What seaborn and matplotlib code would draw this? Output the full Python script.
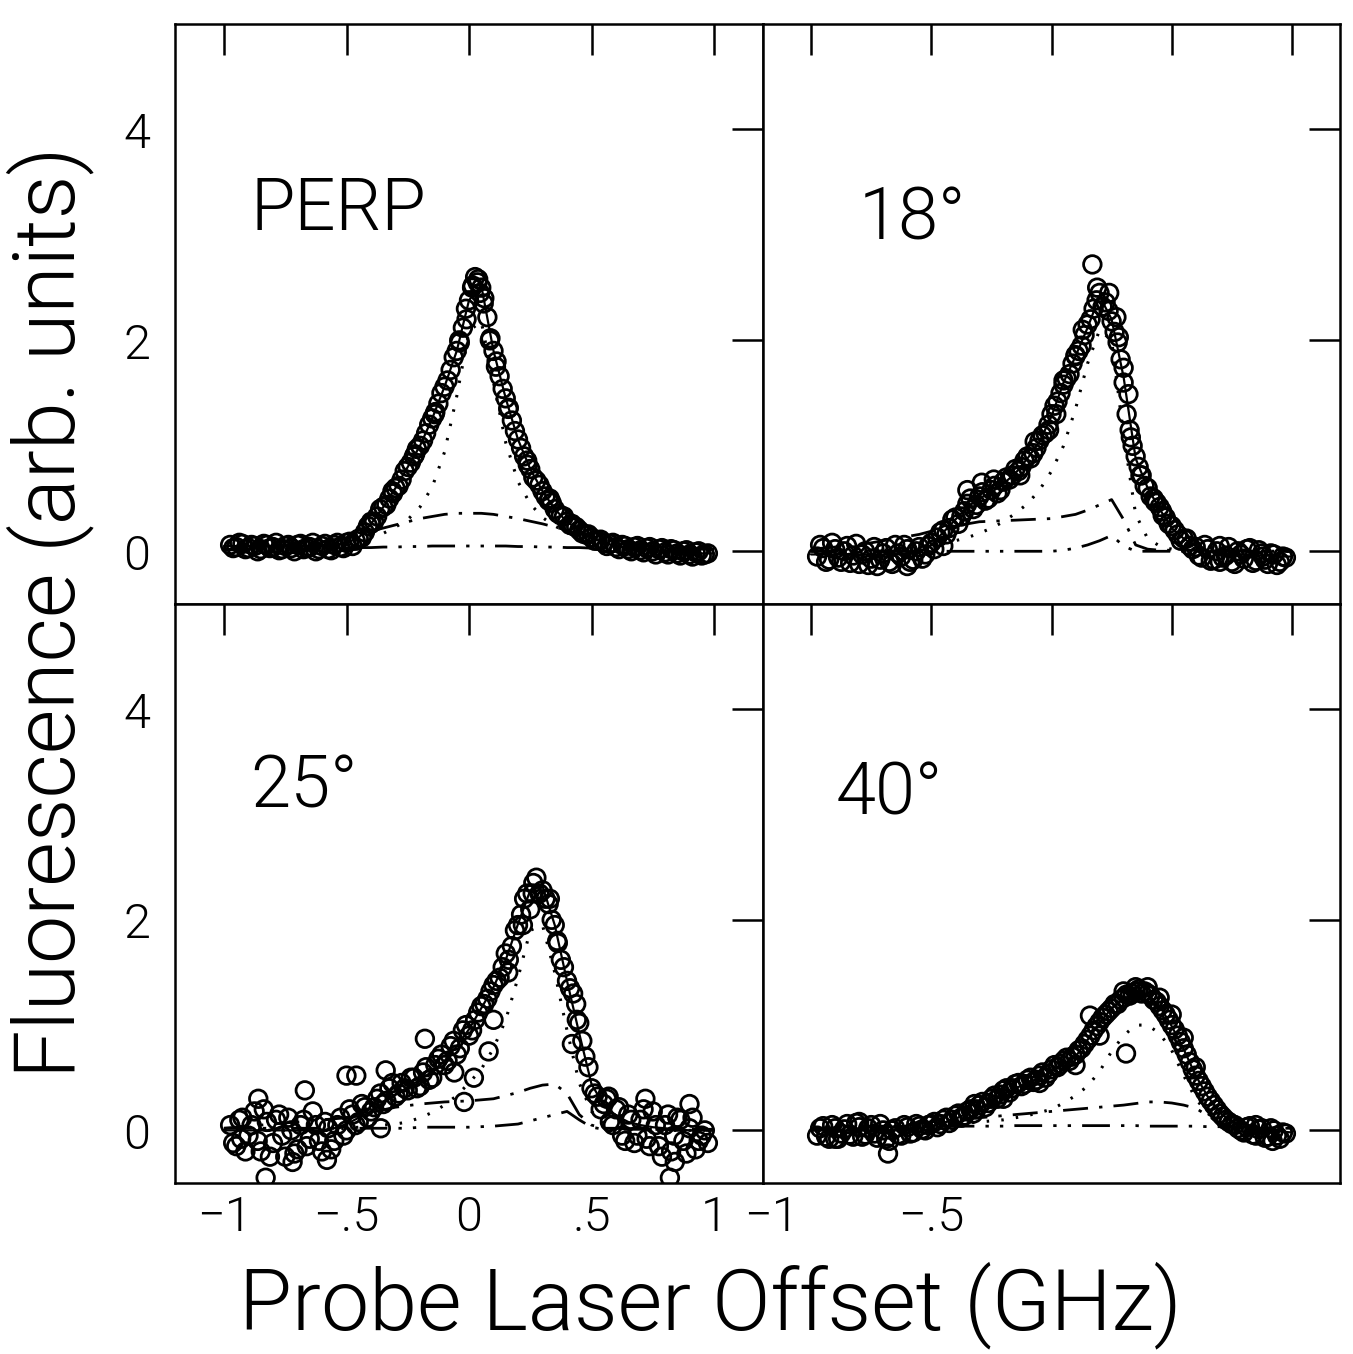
import numpy as np
import pandas as pd
import seaborn as sns
import matplotlib.pyplot as plt
from matplotlib import font_manager as fm
from matplotlib import transforms

# probe offset (GHz) of the scan points: two interleaved grids shared by every panel
DATA_X = [-0.975, -0.95, -0.925, -0.9, -0.875, -0.85, -0.825, -0.8, -0.775, -0.75,
          -0.725, -0.7, -0.675, -0.65, -0.625, -0.6, -0.575, -0.55, -0.525, -0.5,
          -0.475, -0.45, -0.425, -0.4, -0.375, -0.35, -0.325, -0.3, -0.275, -0.25,
          -0.225, -0.2, -0.175, -0.15, -0.125, -0.1, -0.075, -0.05, -0.025, 0.0,
          0.025, 0.05, 0.075, 0.1, 0.125, 0.15, 0.175, 0.2, 0.225, 0.25,
          0.275, 0.3, 0.325, 0.35, 0.375, 0.4, 0.425, 0.45, 0.475, 0.5,
          0.525, 0.55, 0.575, 0.6, 0.625, 0.65, 0.675, 0.7, 0.725, 0.75,
          0.775, 0.8, 0.825, 0.85, 0.875, 0.9, 0.925, 0.95, 0.975]
DATA_X2 = [-0.9625, -0.9375, -0.9125, -0.8875, -0.8625, -0.8375, -0.8125, -0.7875, -0.7625, -0.7375,
           -0.7125, -0.6875, -0.6625, -0.6375, -0.6125, -0.5875, -0.5625, -0.5375, -0.5125, -0.4875,
           -0.4625, -0.4375, -0.4125, -0.3875, -0.3625, -0.3375, -0.3125, -0.2875, -0.2625, -0.2375,
           -0.2125, -0.1875, -0.1625, -0.1375, -0.1125, -0.0875, -0.0625, -0.0375, -0.0125,
           0.0125, 0.0375, 0.0625, 0.0875, 0.1125, 0.1375, 0.1625, 0.1875, 0.2125, 0.2375,
           0.2625, 0.2875, 0.3125, 0.3375, 0.3625, 0.3875, 0.4125, 0.4375, 0.4625, 0.4875,
           0.5125, 0.5375, 0.5625, 0.5875, 0.6125, 0.6375, 0.6625, 0.6875, 0.7125, 0.7375,
           0.7625, 0.7875, 0.8125, 0.8375, 0.8625, 0.8875, 0.9125, 0.9375, 0.9625]

perp_y = [0.06, 0.04, 0.07, 0.03, 0.05, 0.02, 0.06, 0.04, 0.01, 0.05,
          0.03, 0.06, 0.02, 0.04, 0.0, 0.05, 0.02, 0.06, 0.04, 0.08,
          0.05, 0.12, 0.18, 0.26, 0.33, 0.42, 0.5, 0.6, 0.68, 0.8,
          0.9, 1.0, 1.12, 1.26, 1.4, 1.56, 1.72, 1.9, 2.12, 2.38,
          2.6, 2.5, 2.22, 1.9, 1.66, 1.45, 1.24, 1.06, 0.9, 0.78,
          0.67, 0.57, 0.48, 0.4, 0.34, 0.28, 0.24, 0.2, 0.16, 0.13,
          0.1, 0.08, 0.07, 0.04, 0.06, 0.02, 0.04, 0.01, 0.03, 0.0,
          0.02, -0.01, 0.02, -0.02, 0.0, -0.03, -0.01, -0.04, -0.02]
perp_y2 = [0.03, 0.08, 0.02, 0.06, 0.0, 0.07, 0.03, 0.08, 0.02, 0.06,
           0.0, 0.07, 0.03, 0.08, 0.02, 0.07, 0.01, 0.08, 0.03, 0.09,
           0.1, 0.13, 0.24, 0.28, 0.4, 0.44, 0.57, 0.62, 0.76, 0.84,
           0.97, 1.05, 1.2, 1.32, 1.5, 1.62, 1.84, 1.98, 2.3,
           2.5, 2.58, 2.4, 2.02, 1.8, 1.54, 1.36, 1.14, 0.98, 0.86,
           0.7, 0.63, 0.52, 0.46, 0.36, 0.33, 0.25, 0.23, 0.17, 0.16,
           0.1, 0.11, 0.05, 0.08, 0.02, 0.05, 0.0, 0.05, -0.01, 0.04,
           -0.03, 0.03, -0.03, 0.01, -0.04, 0.01, -0.05, 0.0, -0.03]
perp_ex_x = [0.035, 0.045, 0.06, 0.015, -0.01, 0.085, -0.04, 0.11, -0.14, 0.16, -0.22, 0.24, -0.31, 0.33, -0.4, 0.42]
perp_ex_y = [2.55, 2.45, 2.35, 2.52, 2.2, 2.0, 2.0, 1.75, 1.3, 1.35, 0.92, 0.82, 0.55, 0.5, 0.28, 0.26]

d18_y = [-0.05, 0.03, -0.08, 0.02, -0.1, 0.05, -0.04, -0.12, 0.0, -0.07,
         -0.14, -0.02, -0.1, 0.06, -0.05, 0.02, -0.08, 0.04, -0.03, 0.08,
         0.13, 0.2, 0.22, 0.32, 0.33, 0.45, 0.4, 0.52, 0.48, 0.58,
         0.55, 0.66, 0.68, 0.78, 0.8, 0.9, 0.93, 1.05, 1.12, 1.3,
         1.42, 1.62, 1.68, 1.85, 1.95, 2.15, 2.3, 2.45, 2.36, 2.18,
         1.98, 1.6, 1.15, 0.9, 0.72, 0.6, 0.5, 0.42, 0.32, 0.24,
         0.16, 0.12, 0.05, 0.04, -0.06, 0.02, -0.08, 0.05, -0.04, -0.1,
         0.0, -0.07, 0.03, -0.09, -0.02, -0.12, -0.03, -0.1, -0.06]
d18_y2 = [0.06, -0.1, 0.08, -0.06, 0.0, -0.11, 0.07, -0.03, -0.13, 0.04,
          -0.08, 0.03, -0.12, -0.02, 0.06, -0.1, 0.0, -0.07, 0.05, 0.02,
          0.18, 0.16, 0.3, 0.26, 0.38, 0.5, 0.44, 0.56, 0.5, 0.62,
          0.58, 0.7, 0.72, 0.76, 0.86, 0.88, 0.98, 1.1, 1.2,
          1.38, 1.5, 1.64, 1.78, 1.9, 2.05, 2.2, 2.38, 2.32, 2.28,
          2.08, 1.82, 1.3, 1.0, 0.8, 0.62, 0.52, 0.46, 0.34, 0.26,
          0.2, 0.1, 0.12, 0.02, -0.04, 0.06, -0.09, 0.0, -0.06, 0.04,
          -0.12, -0.03, 0.02, -0.11, 0.01, -0.08, -0.02, -0.13, -0.05]
d18_ex_x = [0.17, 0.19, 0.24, 0.27, 0.28, 0.13, 0.1, 0.05, 0.02, -0.01, -0.07, -0.13, -0.24, -0.29, -0.35,
            0.3, 0.32, 0.33, 0.37, 0.43, 0.46, -0.6, -0.45, 0.7, 0.88]
d18_ex_y = [2.72, 2.5, 2.45, 2.22, 2.03, 2.1, 1.86, 1.58, 1.3, 1.15, 1.04, 0.72, 0.68, 0.65, 0.58,
            1.74, 1.49, 1.08, 0.72, 0.47, 0.38, -0.14, 0.05, -0.1, -0.05]

d25_y = [0.05, -0.15, 0.12, -0.05, 0.18, -0.2, 0.08, -0.12, 0.15, -0.25,
         0.0, -0.18, 0.1, -0.08, 0.05, -0.2, 0.02, -0.1, 0.12, 0.0,
         0.15, 0.08, 0.22, 0.18, 0.3, 0.25, 0.4, 0.32, 0.45, 0.38,
         0.5, 0.42, 0.6, 0.5, 0.68, 0.62, 0.8, 0.72, 0.95, 0.9,
         1.05, 1.18, 1.25, 1.38, 1.45, 1.68, 1.75, 1.95, 2.2, 2.1,
         2.4, 2.28, 2.15, 1.95, 1.62, 1.42, 1.3, 1.02, 0.7, 0.4,
         0.32, 0.25, 0.08, 0.2, -0.05, 0.15, -0.12, 0.1, -0.08, 0.18,
         -0.15, 0.05, -0.2, 0.12, -0.1, 0.02, -0.18, -0.05, -0.12]
d25_y2 = [-0.12, 0.1, -0.2, 0.05, -0.1, 0.2, -0.25, 0.1, -0.05, 0.12,
          -0.22, 0.05, -0.15, 0.18, -0.1, 0.08, -0.18, 0.05, -0.05, 0.2,
          0.05, 0.25, 0.12, 0.22, 0.35, 0.28, 0.45, 0.35, 0.4, 0.5,
          0.4, 0.55, 0.48, 0.62, 0.72, 0.66, 0.85, 0.78, 1.0,
          0.95, 1.12, 1.2, 1.32, 1.42, 1.55, 1.62, 1.9, 2.05, 2.25,
          2.35, 2.25, 2.2, 2.0, 1.78, 1.55, 1.35, 1.2, 0.85, 0.6,
          0.35, 0.2, 0.3, 0.05, 0.22, -0.1, 0.1, -0.05, 0.2, -0.15,
          0.05, -0.25, 0.15, -0.05, 0.1, -0.22, 0.12, -0.1, 0.0]
d25_ex_x = [-0.83, -0.67, -0.86, -0.5, -0.46, -0.34, -0.18, 0.02, -0.02, -0.36, 0.57, 0.72, 0.9, 0.82,
            0.84, -0.93, -0.72, -0.58, 0.26, 0.22, 0.33, 0.36, 0.42, 0.44, 0.1, 0.08, -0.06, 0.16]
d25_ex_y = [-0.45, 0.38, 0.3, 0.52, 0.52, 0.57, 0.87, 0.5, 0.27, 0.02, 0.32, 0.3, 0.25, -0.45,
            -0.3, -0.08, -0.3, -0.28, 2.25, 1.95, 2.2, 1.8, 0.82, 1.05, 1.05, 0.75, 0.55, 1.5]

d40_y = [-0.05, 0.04, -0.08, 0.02, -0.03, 0.06, -0.06, 0.03, -0.04, 0.05,
         -0.07, 0.0, -0.1, 0.02, -0.05, 0.03, -0.02, 0.04, 0.0, 0.06,
         0.03, 0.1, 0.07, 0.14, 0.12, 0.18, 0.16, 0.24, 0.22, 0.3,
         0.3, 0.38, 0.36, 0.44, 0.42, 0.48, 0.46, 0.52, 0.5, 0.58,
         0.6, 0.66, 0.66, 0.72, 0.78, 0.86, 0.95, 1.03, 1.1, 1.16,
         1.2, 1.26, 1.28, 1.32, 1.3, 1.3, 1.24, 1.18, 1.1, 1.0,
         0.9, 0.78, 0.65, 0.52, 0.42, 0.32, 0.24, 0.16, 0.1, 0.06,
         0.02, -0.02, 0.04, -0.05, 0.02, -0.06, 0.0, -0.08, -0.03]
d40_y2 = [0.02, -0.06, 0.05, -0.08, 0.01, -0.04, 0.07, -0.06, 0.02, -0.03,
          0.06, -0.08, 0.0, -0.04, 0.05, -0.03, 0.06, 0.01, 0.05, 0.08,
          0.06, 0.12, 0.1, 0.16, 0.14, 0.2, 0.2, 0.27, 0.26, 0.33,
          0.34, 0.4, 0.4, 0.45, 0.44, 0.5, 0.48, 0.55, 0.54,
          0.62, 0.63, 0.69, 0.7, 0.76, 0.82, 0.9, 0.99, 1.07, 1.13,
          1.2, 1.24, 1.29, 1.3, 1.34, 1.32, 1.28, 1.22, 1.14, 1.05,
          0.96, 0.84, 0.72, 0.58, 0.47, 0.37, 0.28, 0.2, 0.13, 0.08,
          0.05, 0.0, 0.03, -0.04, 0.01, -0.07, 0.02, -0.05, -0.02]
d40_ex_x = [0.31, -0.68, 0.16, 0.35, 0.4, 0.3, 0.45, 0.5, 0.55, 0.6, 0.2, 0.1, -0.05, -0.2, -0.32, -0.8, -0.9, 0.85, 0.92]
d40_ex_y = [0.73, -0.22, 1.09, 1.36, 1.36, 1.32, 1.26, 1.1, 0.88, 0.6, 0.9, 0.62, 0.45, 0.3, 0.25, 0.08, -0.08, 0.05, -0.1]

# fitted curves, read on a 0.05 GHz grid
CURVE_X = [-1.0, -0.95, -0.9, -0.85, -0.8, -0.75, -0.7, -0.65, -0.6, -0.55, -0.5, -0.45, -0.4, -0.35,
           -0.3, -0.25, -0.2, -0.15, -0.1, -0.05, 0.0, 0.05, 0.1, 0.15, 0.2, 0.25, 0.3, 0.35,
           0.4, 0.45, 0.5, 0.55, 0.6, 0.65, 0.7, 0.75, 0.8, 0.85, 0.9, 0.95, 1.0]

perp_fit = [0.05, 0.05, 0.05, 0.05, 0.05, 0.05, 0.05, 0.05, 0.05, 0.06, 0.08, 0.13, 0.26, 0.42,
            0.6, 0.8, 1.0, 1.26, 1.56, 1.9, 2.38, 2.52, 1.9, 1.45, 1.06, 0.78, 0.57, 0.4,
            0.28, 0.2, 0.13, 0.08, 0.05, 0.03, 0.02, 0.01, 0.0, 0.0, -0.01, -0.02, -0.02]
perp_narrow = [0.03, 0.03, 0.03, 0.04, 0.04, 0.04, 0.05, 0.06, 0.07, 0.08, 0.09, 0.11, 0.14, 0.17,
               0.23, 0.3, 0.42, 0.61, 0.94, 1.47, 2.09, 2.18, 1.6, 1.03, 0.66, 0.45, 0.32, 0.24,
               0.18, 0.14, 0.12, 0.1, 0.08, 0.07, 0.06, 0.05, 0.05, 0.04, 0.04, 0.03, 0.03]
perp_broad = [0.01, 0.015, 0.02, 0.03, 0.04, 0.05, 0.06, 0.075, 0.09, 0.11, 0.13, 0.16, 0.19, 0.22,
              0.25, 0.28, 0.31, 0.33, 0.35, 0.36, 0.36, 0.36, 0.35, 0.33, 0.31, 0.285, 0.26, 0.23,
              0.2, 0.17, 0.14, 0.115, 0.09, 0.075, 0.06, 0.05, 0.04, 0.03, 0.02, 0.015, 0.01]
perp_low = [0.02, 0.02, 0.02, 0.02, 0.02, 0.02, 0.025, 0.025, 0.03, 0.03, 0.03, 0.035, 0.035, 0.04,
            0.04, 0.045, 0.045, 0.05, 0.05, 0.05, 0.05, 0.05, 0.05, 0.05, 0.045, 0.045, 0.04, 0.04,
            0.035, 0.035, 0.03, 0.03, 0.03, 0.025, 0.025, 0.02, 0.02, 0.02, 0.02, 0.02, 0.02]

d18_fit = [-0.03, -0.03, -0.03, -0.03, -0.03, -0.03, -0.03, -0.03, -0.03, -0.01, 0.06, 0.18, 0.3, 0.42,
           0.5, 0.56, 0.64, 0.74, 0.88, 1.04, 1.28, 1.6, 1.85, 2.12, 2.42, 2.2, 1.65, 0.88,
           0.6, 0.4, 0.22, 0.12, 0.05, 0.0, -0.02, -0.03, -0.03, -0.04, -0.04, -0.05, -0.05]
d18_narrow = [0.0, 0.0, 0.0, 0.0, 0.01, 0.01, 0.01, 0.02, 0.02, 0.03, 0.05, 0.07, 0.1, 0.13,
              0.17, 0.22, 0.28, 0.36, 0.45, 0.58, 0.76, 1.0, 1.35, 1.78, 2.1, 2.0, 1.1, 0.35,
              0.12, 0.05, 0.02, 0.01, 0.0, 0.0, 0.0, 0.0, 0.0, 0.0, 0.0, 0.0, 0.0]
d18_broad = [0.02, 0.03, 0.04, 0.05, 0.07, 0.08, 0.1, 0.12, 0.14, 0.16, 0.19, 0.21, 0.24, 0.26,
             0.28, 0.285, 0.29, 0.295, 0.3, 0.305, 0.31, 0.33, 0.35, 0.39, 0.44, 0.49, 0.3, 0.06,
             0.02, 0.01, 0.01, 0.01, 0.01, 0.01, 0.01, 0.01, 0.0, 0.0, 0.0, 0.0, 0.0]
d18_low = [0.0, 0.0, 0.0, 0.0, 0.0, 0.0, 0.0, 0.0, 0.0, 0.0, 0.0, 0.0, 0.0, 0.0,
           0.0, 0.0, 0.0, 0.0, 0.0, 0.0, 0.0, 0.01, 0.03, 0.06, 0.1, 0.15, 0.05, 0.0,
           0.0, 0.0, 0.0, 0.0, 0.0, 0.0, 0.0, 0.0, 0.0, 0.0, 0.0, 0.0, 0.0]

d25_fit = [0.0, 0.0, 0.0, 0.0, 0.0, 0.0, 0.0, 0.0, 0.0, 0.02, 0.06, 0.12, 0.18, 0.26,
           0.34, 0.41, 0.48, 0.56, 0.66, 0.8, 0.96, 1.16, 1.36, 1.62, 1.96, 2.28, 2.32, 1.95,
           1.42, 0.92, 0.44, 0.24, 0.14, 0.08, 0.05, 0.03, 0.02, 0.01, 0.0, 0.0, 0.0]
d25_narrow = [0.0, 0.0, 0.0, 0.0, 0.0, 0.0, 0.0, 0.01, 0.01, 0.01, 0.02, 0.03, 0.04, 0.05,
              0.06, 0.08, 0.12, 0.17, 0.24, 0.33, 0.45, 0.58, 0.78, 1.05, 1.45, 1.9, 1.95, 1.5,
              0.95, 0.45, 0.18, 0.07, 0.03, 0.01, 0.01, 0.0, 0.0, 0.0, 0.0, 0.0, 0.0]
d25_broad = [0.02, 0.03, 0.04, 0.05, 0.06, 0.07, 0.08, 0.09, 0.1, 0.11, 0.12, 0.145, 0.17, 0.195,
             0.22, 0.235, 0.25, 0.26, 0.27, 0.275, 0.28, 0.29, 0.3, 0.33, 0.36, 0.4, 0.43, 0.44,
             0.35, 0.15, 0.05, 0.02, 0.02, 0.01, 0.01, 0.01, 0.01, 0.0, 0.0, 0.0, 0.0]
d25_low = [0.02, 0.02, 0.02, 0.02, 0.02, 0.02, 0.02, 0.02, 0.02, 0.02, 0.02, 0.02, 0.02, 0.02,
           0.02, 0.02, 0.03, 0.03, 0.03, 0.03, 0.03, 0.035, 0.04, 0.05, 0.06, 0.09, 0.12, 0.15,
           0.18, 0.1, 0.03, 0.01, 0.01, 0.01, 0.01, 0.01, 0.01, 0.01, 0.01, 0.01, 0.01]

d40_fit = [0.0, 0.0, 0.0, 0.0, 0.0, 0.0, 0.0, 0.0, 0.01, 0.02, 0.04, 0.07, 0.11, 0.16,
           0.21, 0.27, 0.34, 0.4, 0.45, 0.5, 0.56, 0.63, 0.7, 0.86, 1.02, 1.16, 1.25, 1.31,
           1.29, 1.18, 0.99, 0.77, 0.52, 0.32, 0.17, 0.08, 0.03, 0.01, 0.0, -0.01, -0.02]
d40_narrow = [0.0, 0.0, 0.0, 0.0, 0.01, 0.01, 0.01, 0.02, 0.02, 0.03, 0.04, 0.05, 0.06, 0.07,
              0.08, 0.09, 0.1, 0.12, 0.14, 0.17, 0.2, 0.26, 0.33, 0.42, 0.56, 0.75, 0.9, 1.0,
              1.0, 0.92, 0.76, 0.52, 0.3, 0.16, 0.08, 0.04, 0.02, 0.01, 0.0, 0.0, 0.0]
d40_broad = [0.01, 0.015, 0.02, 0.025, 0.03, 0.035, 0.04, 0.05, 0.06, 0.07, 0.08, 0.09, 0.1, 0.11,
             0.12, 0.13, 0.14, 0.15, 0.16, 0.17, 0.18, 0.19, 0.2, 0.21, 0.22, 0.23, 0.24, 0.255,
             0.27, 0.27, 0.26, 0.24, 0.21, 0.14, 0.07, 0.04, 0.02, 0.01, 0.0, 0.0, 0.0]
d40_low = [0.02, 0.02, 0.025, 0.025, 0.03, 0.03, 0.03, 0.035, 0.035, 0.035, 0.04, 0.04, 0.04, 0.04,
           0.04, 0.04, 0.04, 0.045, 0.045, 0.045, 0.045, 0.045, 0.045, 0.045, 0.045, 0.045, 0.045, 0.045,
           0.04, 0.04, 0.04, 0.04, 0.04, 0.035, 0.035, 0.03, 0.03, 0.025, 0.025, 0.02, 0.02]

PANEL_LABELS = ["PERP", "18°", "25°", "40°"]
X_TICKS = [-1, -0.5, 0, 0.5, 1]
X_LABELS_LEFT = ["\u22121", "\u2212.5", "0", ".5", "1"]
X_LABELS_RIGHT = ["\u22121", "\u2212.5", "", "", ""]
Y_TICKS = [0, 2, 4]
Y_LABELS = ["0", "2", "4"]

panels = [
    (perp_y, perp_y2, perp_ex_x, perp_ex_y, perp_fit, perp_narrow, perp_broad, perp_low),
    (d18_y, d18_y2, d18_ex_x, d18_ex_y, d18_fit, d18_narrow, d18_broad, d18_low),
    (d25_y, d25_y2, d25_ex_x, d25_ex_y, d25_fit, d25_narrow, d25_broad, d25_low),
    (d40_y, d40_y2, d40_ex_x, d40_ex_y, d40_fit, d40_narrow, d40_broad, d40_low),
]

sns.set_style("white")
plt.rcParams["font.family"] = ["Liberation Sans", "DejaVu Sans"]
plt.rcParams["text.color"] = "black"


def pick_font():
    # a light, normal-width sans comes closest to the thin plotter lettering
    fams = ["Roboto", "Lato", "Open Sans", "Noto Sans", "Inter", "Liberation Sans", "DejaVu Sans"]
    best, best_score = None, -99
    for f in fm.fontManager.ttflist:
        if f.name not in fams or f.style != "normal":
            continue
        score = 0.0
        if str(f.stretch) in ("normal", "400"):
            score += 4
        w = f.weight
        if isinstance(w, str):
            w = fm.weight_dict.get(w, 400)
        if 280 <= w <= 330:
            score += 2
        elif w == 400:
            score += 1
        elif w < 280:
            score += 0.5
        else:
            score -= 2
        score -= fams.index(f.name) * 0.01
        if score > best_score:
            best, best_score = f, score
    return best.fname if best is not None else None


FONT_FILE = pick_font()


def fp(size):
    if FONT_FILE:
        return fm.FontProperties(fname=FONT_FILE, size=size)
    return fm.FontProperties(family="Liberation Sans", size=size)


W, H = 1353, 1354
fig = plt.figure(figsize=(W / 100, H / 100), dpi=100)
xs = [175, 763, 1340]
ys = [24, 604, 1183]
label_pos = [(0.128, 0.645), (0.165, 0.628), (0.128, 0.648), (0.125, 0.636)]

for i, (py, py2, exx, exy, fit, narrow, broad, low) in enumerate(panels):
    r, c = divmod(i, 2)
    x0, x1 = xs[c], xs[c + 1]
    y0, y1 = ys[r], ys[r + 1]
    ax = fig.add_axes([x0 / W, 1 - y1 / H, (x1 - x0) / W, (y1 - y0) / H])

    sns.lineplot(x=CURVE_X, y=fit, ax=ax, color="black", lw=1.6, sort=False, estimator=None, errorbar=None)
    sns.lineplot(x=CURVE_X, y=narrow, ax=ax, color="black", lw=2.2, linestyle=(0, (0.8, 4)),
                 sort=False, estimator=None, errorbar=None)
    sns.lineplot(x=CURVE_X, y=broad, ax=ax, color="black", lw=2.0, linestyle=(0, (9, 4, 1.2, 4)),
                 sort=False, estimator=None, errorbar=None)
    sns.lineplot(x=CURVE_X, y=low, ax=ax, color="black", lw=2.0, linestyle=(0, (10, 4, 1.2, 4, 1.2, 4)),
                 sort=False, estimator=None, errorbar=None)

    pts = pd.DataFrame({"x": DATA_X + DATA_X2 + exx, "y": py + py2 + exy})
    sns.scatterplot(data=pts, x="x", y="y", ax=ax, marker="o", s=160, facecolors="none",
                    edgecolor="black", linewidth=2.0, zorder=3)

    ax.set_xlim(-1.2, 1.2)
    ax.set_ylim(-0.5, 5)
    ax.set_xlabel("")
    ax.set_ylabel("")
    ax.set_xticks(X_TICKS)
    ax.set_yticks(Y_TICKS)
    if r == 1:
        ax.set_xticklabels(X_LABELS_LEFT if c == 0 else X_LABELS_RIGHT, fontproperties=fp(35))
    else:
        ax.set_xticklabels([])
    if c == 0:
        ax.set_yticklabels(Y_LABELS, fontproperties=fp(35))
    else:
        ax.set_yticklabels([])
    ax.tick_params(axis="both", which="both", direction="in", length=22, width=1.8,
                   top=True, right=True, colors="black")
    ax.tick_params(axis="x", pad=8)
    ax.tick_params(axis="y", pad=18)
    if r == 1 and c == 1:
        # the first label of the right panel sits left of its tick in the original
        lab = ax.get_xticklabels()[0]
        lab.set_transform(lab.get_transform() + transforms.ScaledTranslation(-0.4, 0, fig.dpi_scale_trans))
    for sp in ax.spines.values():
        sp.set_visible(True)
        sp.set_linewidth(1.8)
        sp.set_color("black")
    ax.text(label_pos[i][0], label_pos[i][1], PANEL_LABELS[i], transform=ax.transAxes,
            fontproperties=fp(52), ha="left", va="baseline", color="black")

fig.text(50 / W, 1 - 612 / H, "Fluorescence (arb. units)", rotation=90, fontproperties=fp(62),
         ha="center", va="center", color="black")
fig.text(710 / W, 1 - 1305 / H, "Probe Laser Offset (GHz)", fontproperties=fp(62),
         ha="center", va="center", color="black")

fig.savefig("out.png", dpi=100, facecolor="white")
